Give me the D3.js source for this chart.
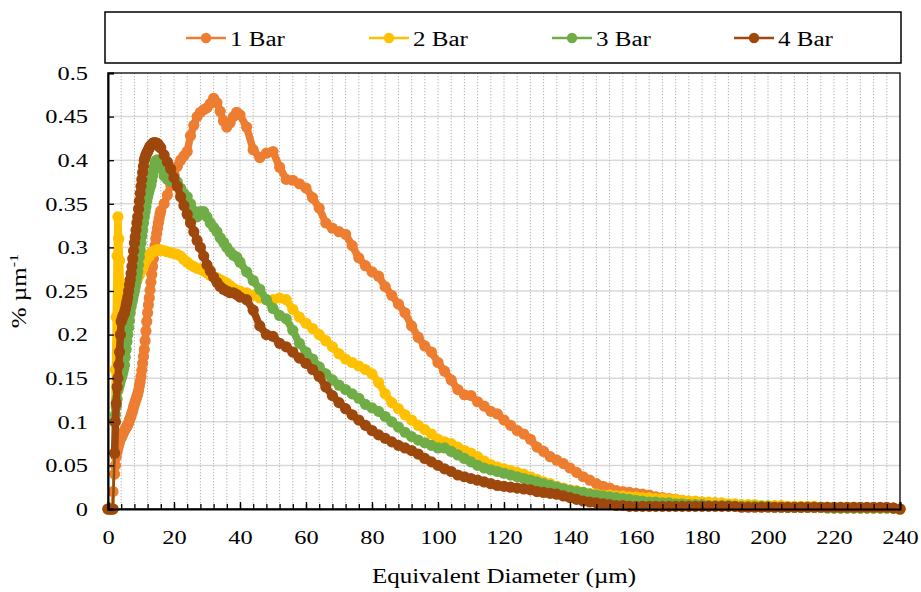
<!DOCTYPE html>
<html><head><meta charset="utf-8">
<script src="https://cdn.jsdelivr.net/npm/d3@7"></script>
<style>
body{margin:0;background:#fff;}
text{font-family:"Liberation Serif","Times New Roman",serif;fill:#000;}
</style></head>
<body><svg id="chart" width="921" height="592"></svg>
<script>
// ---------- data ----------
const seriesNames = ["1 Bar", "2 Bar", "3 Bar", "4 Bar"];
const seriesColors = ["#ED7D31", "#FFC000", "#70AD47", "#9E480E"];

const diameters = [0,0.5,1,1.5,
  2,2.25,2.5,2.75, 3,3.25,3.5,3.75, 4,4.25,4.5,4.75, 5,5.25,5.5,5.75,
  6,6.25,6.5,6.75, 7,7.25,7.5,7.75, 8,8.25,8.5,8.75, 9,9.25,9.5,9.75,
  10,10.25,10.5,10.75, 11,11.25,11.5,11.75, 12,12.25,12.5,12.75,
  13,13.25,13.5,13.75, 14,14.25,14.5,14.75, 15,15.25,15.5,15.75, 16,
  17,18,19,20,21,22,23,24,
  25,26,27,28,29,30,31,32,33,34,
  35,36,37,38,39,40,
  42,44,46,48,50,52,54,56,58,60,
  62,64,66,68,70,72,74,76,78,80,
  82,84,86,88,90,92,94,96,98,100,
  102,104,106,108,110,112,114,116,118,120,
  122,124,126,128,130,132,134,136,138,140,
  142,144,146,148,150,152,154,156,158,160,
  162,164,166,168,170,172,174,176,178,180,
  182,184,186,188,190,192,194,196,198,200,
  202,204,206,208,210,212,214,216,218,220,
  222,224,226,228,230,232,234,236,238,240];

const bar1 = [0,0,0,0.02,
  0.04,0.05,0.06,0.066, 0.07,0.074,0.077,0.08, 0.082,0.084,0.086,0.088,
  0.09,0.092,0.093,0.095, 0.097,0.099,0.102,0.104, 0.107,0.11,0.113,0.117,
  0.12,0.123,0.126,0.129, 0.132,0.136,0.141,0.146, 0.152,0.159,0.167,0.175,
  0.183,0.193,0.204,0.215, 0.225,0.234,0.242,0.251, 0.26,0.269,0.278,0.287,
  0.295,0.302,0.31,0.316, 0.322,0.328,0.333,0.338, 0.342,
  0.35,0.36,0.372,0.383,0.393,0.4,0.405,0.41,
  0.428,0.44,0.45,0.455,0.458,0.46,0.465,0.471,0.466,0.456,
  0.445,0.438,0.443,0.45,0.455,0.452,
  0.438,0.412,0.403,0.408,0.41,0.392,0.378,0.377,0.373,0.368,
  0.357,0.345,0.328,0.322,0.318,0.315,0.302,0.288,0.279,0.272,
  0.267,0.255,0.245,0.235,0.225,0.21,0.197,0.187,0.18,0.168,
  0.158,0.148,0.137,0.131,0.13,0.123,0.118,0.112,0.109,0.102,
  0.096,0.09,0.086,0.08,0.071,0.066,0.06,0.056,0.052,0.047,
  0.042,0.037,0.033,0.029,0.026,0.024,0.021,0.02,0.019,0.018,
  0.017,0.016,0.014,0.013,0.012,0.011,0.01,0.009,0.008,0.008,
  0.007,0.007,0.006,0.005,0.005,0.004,0.004,0.004,0.003,0.003,
  0.003,0.003,0.002,0.002,0.002,0.002,0.002,0.002,0.002,0.001,
  0.001,0.001,0.001,0.001,0.001,0.001,0.001,0.001,0.001,0];

const bar2 = [0,0,0,0,
  0.1,0.16,0.22,0.29, 0.335,0.31,0.285,0.26, 0.24,0.236,0.235,0.235,
  0.235,0.236,0.237,0.238, 0.24,0.242,0.244,0.246, 0.248,0.25,0.252,0.254,
  0.256,0.258,0.26,0.263, 0.265,0.267,0.269,0.271, 0.273,0.275,0.277,0.279,
  0.281,0.283,0.285,0.287, 0.288,0.289,0.29,0.292, 0.293,0.294,0.295,0.295,
  0.296,0.296,0.297,0.297, 0.297,0.297,0.297,0.297, 0.297,
  0.296,0.295,0.294,0.293,0.292,0.29,0.286,0.283,
  0.28,0.278,0.276,0.275,0.273,0.271,0.268,0.266,0.265,0.263,
  0.261,0.259,0.256,0.253,0.251,0.25,
  0.248,0.245,0.242,0.24,0.24,0.242,0.24,0.229,0.22,0.213,
  0.207,0.2,0.193,0.186,0.178,0.172,0.168,0.164,0.16,0.155,
  0.145,0.132,0.122,0.115,0.108,0.102,0.096,0.091,0.086,0.08,
  0.077,0.075,0.071,0.067,0.064,0.06,0.055,0.051,0.048,0.046,
  0.044,0.042,0.04,0.037,0.034,0.031,0.029,0.026,0.024,0.022,
  0.021,0.019,0.018,0.017,0.016,0.016,0.015,0.015,0.014,0.014,
  0.013,0.013,0.012,0.012,0.011,0.011,0.01,0.009,0.009,0.008,
  0.008,0.007,0.007,0.006,0.006,0.005,0.005,0.005,0.004,0.004,
  0.004,0.004,0.003,0.003,0.003,0.003,0.003,0.002,0.002,0.002,
  0.002,0.002,0.002,0.001,0.001,0.001,0.001,0.001,0.001,0];

const bar3 = [0,0,0,0,
  0.1,0.108,0.117,0.126, 0.136,0.14,0.143,0.147, 0.15,0.153,0.157,0.161,
  0.165,0.174,0.183,0.192, 0.2,0.208,0.216,0.225, 0.232,0.237,0.241,0.246,
  0.25,0.255,0.26,0.266, 0.272,0.28,0.289,0.297, 0.305,0.313,0.32,0.328,
  0.335,0.341,0.347,0.353, 0.358,0.362,0.366,0.369, 0.372,0.377,0.382,0.387,
  0.392,0.396,0.399,0.4, 0.4,0.398,0.396,0.394, 0.392,
  0.382,0.378,0.376,0.377,0.375,0.368,0.362,0.358,
  0.35,0.342,0.335,0.341,0.341,0.335,0.328,0.323,0.318,0.311,
  0.306,0.3,0.295,0.291,0.289,0.283,
  0.272,0.262,0.252,0.24,0.23,0.222,0.218,0.205,0.19,0.18,
  0.172,0.163,0.155,0.148,0.142,0.137,0.132,0.127,0.12,0.116,
  0.112,0.106,0.1,0.094,0.088,0.083,0.079,0.076,0.073,0.07,
  0.07,0.066,0.062,0.058,0.054,0.05,0.047,0.045,0.043,0.041,
  0.039,0.037,0.035,0.033,0.031,0.029,0.027,0.025,0.023,0.021,
  0.02,0.019,0.017,0.016,0.015,0.014,0.013,0.012,0.011,0.01,
  0.009,0.008,0.008,0.007,0.007,0.006,0.006,0.005,0.005,0.005,
  0.004,0.004,0.004,0.004,0.003,0.003,0.003,0.003,0.003,0.003,
  0.002,0.002,0.002,0.002,0.002,0.002,0.002,0.002,0.001,0.001,
  0.001,0.001,0.001,0.001,0.001,0.001,0.001,0.001,0.001,0];

const bar4 = [0,0,0,0,
  0.064,0.1,0.121,0.14, 0.15,0.165,0.18,0.2, 0.215,0.218,0.221,0.223,
  0.225,0.229,0.234,0.238, 0.243,0.25,0.257,0.263, 0.27,0.278,0.287,0.296,
  0.305,0.312,0.32,0.328, 0.335,0.344,0.353,0.362, 0.37,0.378,0.386,0.393,
  0.4,0.403,0.406,0.408, 0.41,0.412,0.414,0.416, 0.417,0.418,0.419,0.42,
  0.42,0.42,0.42,0.419, 0.419,0.418,0.416,0.415, 0.414,
  0.406,0.398,0.39,0.38,0.37,0.358,0.348,0.338,
  0.328,0.318,0.308,0.3,0.29,0.28,0.273,0.266,0.26,0.255,
  0.252,0.25,0.248,0.248,0.246,0.243,
  0.24,0.228,0.21,0.2,0.198,0.19,0.186,0.18,0.173,0.167,
  0.16,0.152,0.14,0.13,0.122,0.115,0.108,0.102,0.096,0.09,
  0.085,0.081,0.077,0.073,0.07,0.067,0.063,0.058,0.054,0.05,
  0.046,0.043,0.039,0.037,0.035,0.033,0.031,0.029,0.027,0.026,
  0.025,0.024,0.023,0.022,0.02,0.019,0.018,0.017,0.015,0.013,
  0.011,0.009,0.008,0.007,0.006,0.005,0.004,0.004,0.003,0.003,
  0.003,0.003,0.003,0.003,0.003,0.003,0.003,0.003,0.003,0.003,
  0.003,0.003,0.003,0.003,0.003,0.002,0.002,0.002,0.002,0.002,
  0.002,0.002,0.002,0.002,0.002,0.002,0.002,0.002,0.002,0.002,
  0.002,0.002,0.002,0.002,0.002,0.002,0.002,0.002,0.001,0];

const seriesValues = [bar1, bar2, bar3, bar4];
const yTickValues = [0,0.05,0.1,0.15,0.2,0.25,0.3,0.35,0.4,0.45,0.5];
const xTickValues = [0,20,40,60,80,100,120,140,160,180,200,220,240];
const xMinorValues = [0,4,8,12,16,20,24,28,32,36,40,44,48,52,56,60,64,68,72,76,80,84,88,92,96,100,
  104,108,112,116,120,124,128,132,136,140,144,148,152,156,160,164,168,172,176,180,184,188,192,196,200,
  204,208,212,216,220,224,228,232,236,240];
const xTitle = "Equivalent Diameter (µm)";

// ---------- layout ----------
const svg = d3.select("#chart");
const L = 108, R = 900, T = 73, B = 509;
const x = d3.scaleLinear().domain([0, 240]).range([L, R]);
const y = d3.scaleLinear().domain([0, 0.5]).range([B, T]);
const FS = 19.5, SX = 1.25;   // font is wide: horizontal stretch
const MR = 5.6;               // marker radius

// horizontal grid
svg.append("g").selectAll("line").data(yTickValues.filter(v => v > 0 && v < 0.5)).join("line")
  .attr("x1", L).attr("x2", R).attr("y1", d => y(d)).attr("y2", d => y(d))
  .attr("stroke", "#d9d9d9").attr("stroke-width", 1.5);
// vertical dotted minor grid
svg.append("g").selectAll("line").data(xMinorValues.filter(v => v > 0 && v < 240)).join("line")
  .attr("x1", d => x(d)).attr("x2", d => x(d)).attr("y1", T).attr("y2", B)
  .attr("stroke", "#b3b3b3").attr("stroke-width", 1).attr("stroke-dasharray", "1.3,1.7");

// plot border
svg.append("rect").attr("x", L).attr("y", T).attr("width", R - L).attr("height", B - T)
  .attr("fill", "none").attr("stroke", "#000").attr("stroke-width", 1.3);

// series
const line = d3.line().x(d => x(d[0])).y(d => y(d[1]));
seriesValues.forEach((vals, i) => {
  const n = Math.min(vals.length, diameters.length);
  const pts = d3.range(n).map(k => [diameters[k], vals[k]]);
  const g = svg.append("g");
  g.append("path").datum(pts).attr("d", line).attr("fill", "none")
    .attr("stroke", seriesColors[i]).attr("stroke-width", 2.5).attr("stroke-linejoin", "round");
  // dense marker band
  g.append("path").datum(pts.slice(4)).attr("d", line).attr("fill", "none")
    .attr("stroke", seriesColors[i]).attr("stroke-width", 7.5)
    .attr("stroke-linejoin", "round").attr("stroke-linecap", "round");
  g.selectAll("circle").data(pts).join("circle")
    .attr("cx", d => x(d[0])).attr("cy", d => y(d[1])).attr("r", MR)
    .attr("fill", seriesColors[i]);
});

// axes
const yAxis = d3.axisLeft(y).tickValues(yTickValues).tickSize(-6).tickPadding(20)
  .tickFormat(d => String(+d.toFixed(2)));
const gy = svg.append("g").attr("transform", `translate(${L},0)`).call(yAxis);
gy.select(".domain").attr("stroke", "#000").attr("stroke-width", 2);
gy.selectAll(".tick line").attr("stroke", "#000").attr("stroke-width", 1.3);
gy.selectAll("text").attr("font-size", FS).attr("font-family", "Liberation Serif").attr("fill", "#000")
  .attr("x", -20 / SX).attr("transform", `scale(${SX},1)`);

const xMinor = d3.axisBottom(x).tickValues(xMinorValues).tickSize(-5).tickFormat("");
const gxm = svg.append("g").attr("transform", `translate(0,${B})`).call(xMinor);
gxm.select(".domain").remove();
gxm.selectAll(".tick line").attr("stroke", "#000").attr("stroke-width", 1.3);

const xAxis = d3.axisBottom(x).tickValues(xTickValues).tickSize(-7).tickPadding(21);
const gx = svg.append("g").attr("transform", `translate(0,${B})`).call(xAxis);
gx.select(".domain").attr("stroke", "#000").attr("stroke-width", 2);
gx.selectAll(".tick line").attr("stroke", "#000").attr("stroke-width", 1.3);
gx.selectAll("text").attr("font-size", FS).attr("font-family", "Liberation Serif").attr("fill", "#000")
  .attr("transform", `scale(${SX},1)`);

// axis titles
svg.append("text").attr("transform", `translate(${(L + R) / 2},583) scale(${SX},1)`)
  .attr("text-anchor", "middle").attr("font-size", FS + 0.5).text(xTitle);
const yt = svg.append("text").attr("transform", `translate(26,${(T + B) / 2}) rotate(-90) scale(${SX},1)`)
  .attr("text-anchor", "middle").attr("font-size", FS + 0.5);
yt.append("tspan").text("% µm");
yt.append("tspan").attr("dy", -8).attr("font-size", 13).text("-1");

// legend
svg.append("rect").attr("x", 105).attr("y", 12).attr("width", 796).attr("height", 51)
  .attr("fill", "#fff").attr("stroke", "#000").attr("stroke-width", 1.5);
const legendStarts = [186, 369, 552, 734];
seriesNames.forEach((name, i) => {
  const g = svg.append("g").attr("transform", `translate(${legendStarts[i]},38)`);
  g.append("line").attr("x1", 0).attr("x2", 40).attr("stroke", seriesColors[i]).attr("stroke-width", 2.5);
  g.append("circle").attr("cx", 20).attr("r", 5.2).attr("fill", seriesColors[i]);
  g.append("text").attr("transform", `translate(44,7.5) scale(${SX},1)`)
    .attr("font-size", FS + 0.5).text(name);
});
</script>
</body></html>
